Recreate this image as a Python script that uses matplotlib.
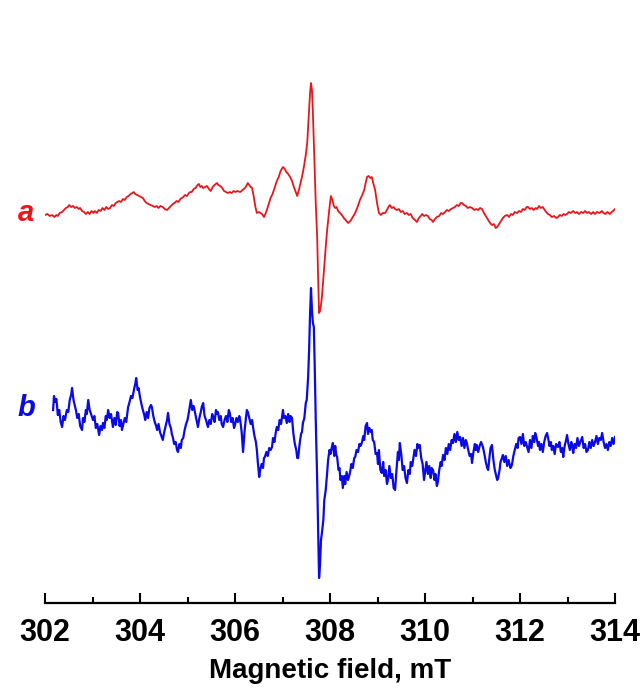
import matplotlib
matplotlib.use("Agg")
import matplotlib.pyplot as plt
import numpy as np

# spectrum a (red): (field mT, signal a.u.)
trace_a = [
    (302.00, -2), (302.05, -1), (302.10, -3), (302.15, -2), (302.20, -4), (302.24, -2), (302.27, -3),
    (302.31, 0), (302.36, 1), (302.40, 3), (302.44, 5), (302.48, 6), (302.51, 8), (302.55, 6),
    (302.59, 7), (302.63, 5), (302.67, 6), (302.71, 4), (302.74, 5), (302.78, 2), (302.82, 1),
    (302.86, -1), (302.90, 1), (302.94, -1), (302.98, 2), (303.02, 0), (303.05, 2), (303.09, 0),
    (303.13, 3), (303.17, 2), (303.21, 5), (303.25, 3), (303.29, 6), (303.33, 4), (303.37, 5),
    (303.41, 8), (303.45, 7), (303.49, 10), (303.52, 11), (303.56, 12), (303.60, 11), (303.64, 14),
    (303.68, 13), (303.72, 16), (303.76, 17), (303.80, 19), (303.84, 20), (303.87, 21), (303.90, 19),
    (303.94, 18), (303.98, 17), (304.02, 16), (304.06, 15), (304.10, 12), (304.14, 10), (304.18, 9),
    (304.22, 8), (304.27, 7), (304.31, 6), (304.35, 7), (304.39, 5), (304.43, 7), (304.48, 6),
    (304.52, 4), (304.57, 3), (304.61, 5), (304.65, 7), (304.69, 9), (304.73, 10), (304.77, 12),
    (304.81, 11), (304.85, 14), (304.88, 15), (304.91, 16), (304.95, 18), (304.99, 17), (305.03, 20),
    (305.06, 21), (305.09, 21), (305.13, 24), (305.17, 25), (305.21, 28), (305.24, 29), (305.27, 26),
    (305.30, 27), (305.33, 25), (305.37, 26), (305.41, 27), (305.45, 24), (305.49, 22), (305.53, 26),
    (305.57, 28), (305.62, 30), (305.65, 28), (305.69, 27), (305.73, 25), (305.77, 22), (305.81, 21),
    (305.85, 20), (305.89, 21), (305.93, 20), (305.97, 22), (306.01, 21), (306.05, 22), (306.11, 21),
    (306.16, 23), (306.21, 25), (306.25, 28), (306.27, 30), (306.30, 28), (306.33, 26), (306.36, 25),
    (306.40, 15), (306.43, 6), (306.46, 0), (306.50, 1), (306.54, 0), (306.57, -1), (306.61, -4),
    (306.64, -1), (306.67, 3), (306.71, 9), (306.75, 15), (306.79, 19), (306.84, 26), (306.88, 32),
    (306.92, 36), (306.96, 42), (307.01, 46), (307.05, 44), (307.08, 41), (307.12, 39), (307.16, 36),
    (307.20, 32), (307.24, 26), (307.28, 21), (307.31, 17), (307.35, 24), (307.38, 30), (307.41, 36),
    (307.45, 46), (307.49, 58), (307.52, 70), (307.55, 95), (307.58, 120), (307.60, 130), (307.62, 123),
    (307.64, 100), (307.66, 70), (307.68, 43), (307.70, 10), (307.73, -24), (307.75, -65), (307.77, -100),
    (307.79, -98), (307.81, -92), (307.83, -84), (307.86, -65), (307.89, -45), (307.92, -28), (307.94, -17),
    (307.97, -3), (308.00, 10), (308.02, 17), (308.05, 13), (308.08, 7), (308.11, 5), (308.14, 6),
    (308.17, 2), (308.21, 0), (308.25, -2), (308.29, -5), (308.33, -7), (308.38, -10), (308.43, -8),
    (308.48, -4), (308.53, 0), (308.58, 6), (308.63, 13), (308.68, 18), (308.72, 23), (308.75, 30),
    (308.78, 36), (308.81, 37), (308.85, 35), (308.88, 36), (308.91, 30), (308.95, 23), (308.99, 10),
    (309.03, 0), (309.07, -2), (309.11, 0), (309.16, 0), (309.20, 3), (309.23, 6), (309.26, 8),
    (309.30, 5), (309.34, 6), (309.37, 4), (309.41, 3), (309.45, 4), (309.49, 1), (309.53, 2),
    (309.57, -1), (309.62, 0), (309.66, -2), (309.70, -1), (309.74, -5), (309.79, -7), (309.83, -9),
    (309.87, -5), (309.91, -3), (309.94, -1), (309.98, -3), (310.02, -2), (310.06, -3), (310.10, -6),
    (310.14, -7), (310.17, -9), (310.21, -6), (310.25, -4), (310.30, -3), (310.34, 0), (310.38, -1),
    (310.42, 1), (310.46, 3), (310.50, 2), (310.55, 4), (310.59, 5), (310.63, 6), (310.67, 8),
    (310.71, 7), (310.75, 10), (310.78, 10), (310.82, 8), (310.86, 7), (310.90, 5), (310.95, 6),
    (310.99, 5), (311.04, 3), (311.08, 4), (311.12, 3), (311.16, 5), (311.20, 4), (311.24, 0),
    (311.28, -3), (311.33, -7), (311.37, -10), (311.41, -12), (311.45, -11), (311.49, -15), (311.52, -14),
    (311.56, -11), (311.60, -8), (311.64, -5), (311.68, -3), (311.73, -2), (311.77, -4), (311.81, -1),
    (311.85, -2), (311.89, 1), (311.94, 0), (311.98, 2), (312.02, 1), (312.06, 4), (312.10, 3),
    (312.14, 6), (312.17, 6), (312.21, 4), (312.25, 5), (312.29, 3), (312.33, 5), (312.36, 4),
    (312.40, 7), (312.44, 5), (312.48, 6), (312.52, 3), (312.55, 1), (312.59, -1), (312.63, -2),
    (312.67, -4), (312.72, -3), (312.76, -5), (312.80, -4), (312.84, -2), (312.88, -3), (312.92, -1),
    (312.95, -2), (312.99, -1), (313.03, 1), (313.07, 0), (313.12, 2), (313.16, 0), (313.20, 1),
    (313.24, -1), (313.29, 1), (313.33, 0), (313.37, 2), (313.41, 0), (313.45, 1), (313.50, -1),
    (313.54, 1), (313.58, -1), (313.62, 1), (313.68, 0), (313.72, 2), (313.76, 0), (313.80, -1),
    (313.84, 1), (313.89, -1), (313.93, 1), (313.96, 2), (314.00, 4),
]

# spectrum b (blue)
trace_b = [
    (302.17, 30), (302.19, 44), (302.21, 38), (302.24, 41), (302.27, 25), (302.30, 30), (302.33, 18),
    (302.36, 13), (302.39, 24), (302.42, 20), (302.46, 30), (302.49, 28), (302.52, 40), (302.55, 45),
    (302.57, 52), (302.60, 40), (302.62, 36), (302.65, 30), (302.68, 22), (302.71, 26), (302.74, 14),
    (302.78, 10), (302.80, 22), (302.83, 18), (302.86, 30), (302.88, 26), (302.91, 40), (302.94, 30),
    (302.97, 26), (303.01, 20), (303.04, 24), (303.07, 12), (303.10, 16), (303.14, 5), (303.17, 14),
    (303.20, 10), (303.22, 17), (303.25, 12), (303.28, 24), (303.30, 20), (303.33, 30), (303.36, 22),
    (303.39, 26), (303.43, 13), (303.46, 22), (303.49, 15), (303.52, 28), (303.54, 27), (303.57, 14),
    (303.60, 20), (303.62, 10), (303.64, 14), (303.68, 22), (303.71, 18), (303.75, 33), (303.78, 38),
    (303.81, 44), (303.84, 42), (303.88, 52), (303.90, 56), (303.92, 62), (303.95, 50), (303.97, 52),
    (304.00, 43), (304.03, 36), (304.06, 30), (304.09, 25), (304.11, 20), (304.14, 28), (304.17, 22),
    (304.20, 32), (304.23, 35), (304.25, 33), (304.28, 24), (304.31, 18), (304.34, 14), (304.36, 10),
    (304.39, 16), (304.42, 8), (304.45, 4), (304.48, 0), (304.51, 8), (304.54, 14), (304.57, 20),
    (304.59, 27), (304.62, 16), (304.65, 12), (304.67, 6), (304.69, 3), (304.72, -4), (304.75, -2),
    (304.78, -10), (304.80, -12), (304.83, -4), (304.86, -8), (304.88, 0), (304.91, 2), (304.94, 10),
    (304.97, 16), (305.00, 20), (305.03, 28), (305.05, 34), (305.07, 40), (305.10, 30), (305.13, 34),
    (305.16, 27), (305.19, 20), (305.22, 13), (305.25, 22), (305.28, 28), (305.30, 33), (305.33, 37),
    (305.36, 24), (305.39, 20), (305.43, 13), (305.46, 20), (305.49, 16), (305.52, 26), (305.54, 23),
    (305.57, 18), (305.60, 30), (305.62, 26), (305.64, 28), (305.67, 20), (305.70, 24), (305.72, 16),
    (305.75, 13), (305.78, 20), (305.81, 24), (305.84, 18), (305.87, 30), (305.89, 27), (305.92, 18),
    (305.95, 22), (305.98, 12), (306.00, 15), (306.03, 22), (306.06, 18), (306.09, 24), (306.11, 20),
    (306.14, 8), (306.17, -12), (306.20, 8), (306.23, 22), (306.25, 30), (306.27, 28), (306.30, 22),
    (306.33, 16), (306.36, 20), (306.38, 13), (306.41, 4), (306.44, -2), (306.46, -10), (306.48, -22),
    (306.51, -37), (306.53, -30), (306.56, -24), (306.59, -28), (306.61, -18), (306.63, -17), (306.66, -12),
    (306.69, -16), (306.72, -8), (306.75, -10), (306.78, -7), (306.80, 2), (306.83, -2), (306.86, 8),
    (306.88, 13), (306.91, 10), (306.94, 20), (306.97, 16), (307.01, 30), (307.03, 22), (307.06, 24),
    (307.09, 17), (307.12, 26), (307.15, 18), (307.17, 24), (307.20, 22), (307.23, 6), (307.26, -4),
    (307.29, -10), (307.31, -18), (307.33, -18), (307.36, -4), (307.39, 6), (307.41, 8), (307.43, 17),
    (307.46, 22), (307.49, 37), (307.51, 40), (307.54, 63), (307.56, 90), (307.58, 125), (307.60, 152),
    (307.62, 130), (307.64, 117), (307.66, 113), (307.68, 70), (307.70, 20), (307.73, -40), (307.75, -90),
    (307.77, -138), (307.79, -125), (307.81, -100), (307.83, -93), (307.86, -80), (307.88, -60), (307.91, -50),
    (307.94, -33), (307.96, -20), (307.99, -10), (308.01, -14), (308.04, -7), (308.06, -3), (308.09, -16),
    (308.11, -6), (308.13, -14), (308.15, -17), (308.18, -30), (308.20, -28), (308.22, -40), (308.25, -36),
    (308.27, -48), (308.30, -36), (308.32, -44), (308.35, -32), (308.38, -40), (308.42, -33), (308.45, -24),
    (308.48, -28), (308.51, -18), (308.53, -17), (308.56, -10), (308.59, -12), (308.62, -4), (308.64, -6),
    (308.67, -3), (308.70, 4), (308.72, 0), (308.75, 14), (308.78, 17), (308.80, 6), (308.83, 12),
    (308.86, 8), (308.88, 10), (308.90, 0), (308.93, -2), (308.96, -14), (308.99, -13), (309.01, -24),
    (309.03, -10), (309.06, -30), (309.09, -33), (309.12, -22), (309.14, -36), (309.17, -30), (309.20, -44),
    (309.22, -40), (309.25, -26), (309.28, -38), (309.31, -34), (309.34, -48), (309.37, -50), (309.40, -30),
    (309.43, -12), (309.45, -20), (309.47, -3), (309.50, -14), (309.53, -30), (309.56, -26), (309.59, -38),
    (309.62, -43), (309.65, -30), (309.68, -34), (309.70, -22), (309.73, -26), (309.75, -20), (309.78, -10),
    (309.81, -16), (309.84, -4), (309.87, -8), (309.89, -5), (309.92, -18), (309.95, -24), (309.98, -40),
    (310.00, -33), (310.03, -22), (310.06, -34), (310.09, -26), (310.12, -38), (310.14, -28), (310.17, -30),
    (310.20, -40), (310.22, -34), (310.25, -46), (310.27, -42), (310.30, -30), (310.33, -22), (310.35, -26),
    (310.38, -15), (310.41, -20), (310.44, -8), (310.47, -14), (310.50, -4), (310.53, -10), (310.56, 0),
    (310.59, -3), (310.62, 6), (310.65, -2), (310.68, 8), (310.71, 0), (310.74, 3), (310.77, -6),
    (310.80, 2), (310.83, -8), (310.86, 0), (310.88, -3), (310.91, -10), (310.94, -16), (310.97, -14),
    (310.99, -23), (311.02, -12), (311.05, -4), (311.07, -10), (311.09, -5), (311.12, -12), (311.15, -6),
    (311.18, -2), (311.22, -7), (311.25, -14), (311.28, -22), (311.31, -28), (311.33, -30), (311.36, -16),
    (311.38, -8), (311.41, -5), (311.44, -20), (311.47, -30), (311.50, -36), (311.52, -40), (311.54, -38),
    (311.57, -30), (311.59, -22), (311.62, -18), (311.64, -15), (311.67, -22), (311.70, -16), (311.73, -26),
    (311.76, -20), (311.80, -28), (311.83, -25), (311.86, -16), (311.89, -10), (311.92, -4), (311.95, -8),
    (311.97, 2), (312.00, 3), (312.03, -4), (312.06, 6), (312.09, -6), (312.12, -2), (312.15, -7),
    (312.18, -12), (312.21, 0), (312.24, -8), (312.27, 4), (312.30, -2), (312.32, 7), (312.35, 2),
    (312.38, -6), (312.40, -2), (312.42, -10), (312.45, -4), (312.48, -12), (312.51, -2), (312.54, 4),
    (312.57, 7), (312.60, 0), (312.62, -6), (312.65, -2), (312.67, -10), (312.70, -6), (312.73, -14),
    (312.76, -4), (312.80, -7), (312.83, -2), (312.86, -12), (312.89, -8), (312.91, -17), (312.94, -6),
    (312.97, 0), (312.99, 5), (313.02, -4), (313.05, -10), (313.08, -2), (313.10, -6), (313.12, -13),
    (313.15, -4), (313.18, -8), (313.21, 2), (313.24, -6), (313.27, -2), (313.31, 3), (313.34, -8),
    (313.37, -4), (313.40, -12), (313.43, -10), (313.46, -2), (313.49, -8), (313.52, 0), (313.55, -6),
    (313.58, -2), (313.61, 4), (313.64, -4), (313.67, 2), (313.70, 0), (313.73, 7), (313.76, -2),
    (313.79, -8), (313.82, -4), (313.85, -10), (313.88, -2), (313.91, -6), (313.94, 2), (313.97, -4),
    (314.00, 3),
]

field_a, signal_a = np.array(trace_a).T
field_b, signal_b = np.array(trace_b).T

offset_a = 390
offset_b = 163
xticks = [302, 304, 306, 308, 310, 312, 314]
font = ['Liberation Sans', 'DejaVu Sans']

fig = plt.figure(figsize=(6.44, 6.92), dpi=100)
ax = fig.add_axes([45 / 644, 89 / 692, 570 / 644, 603 / 692])

ax.plot(field_a, signal_a + offset_a, color='#e8161b', lw=1.3)
ax.plot(field_b, signal_b + offset_b, color='#0a0ae6', lw=1.6)

ax.set_xlim(302, 314)
ax.set_ylim(0, 603)
for s in ['top', 'left', 'right']:
    ax.spines[s].set_visible(False)
ax.spines['bottom'].set_linewidth(1.6)
ax.set_yticks([])
ax.set_xticks(xticks)
ax.set_xticks(np.arange(303, 314, 2), minor=True)
ax.tick_params(axis='x', which='major', direction='in', length=7, width=1.5, pad=11)
ax.tick_params(axis='x', which='minor', direction='in', length=4, width=1.5)
ax.set_xticklabels([str(t) for t in xticks], fontsize=22, fontweight='bold', family=font)
ax.set_xlabel('Magnetic field, mT', fontsize=20, fontweight='bold', family=font,
              labelpad=7)

ax.text(301.6, offset_a, 'a', color='#e8161b', fontsize=21, fontweight='bold',
        style='italic', ha='center', va='center', family=font)
ax.text(301.6, offset_b + 32, 'b', color='#0a0ae6', fontsize=21, fontweight='bold',
        style='italic', ha='center', va='center', family=font)

fig.savefig('out.png', dpi=100)
